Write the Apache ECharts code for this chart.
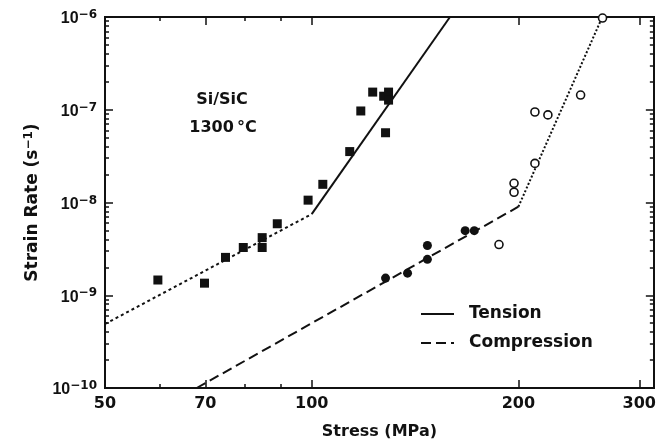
<!DOCTYPE html>
<html lang="en">
<head>
<meta charset="utf-8">
<title>Si/SiC strain rate vs stress</title>
<script src="https://cdn.jsdelivr.net/npm/echarts@6/dist/echarts.min.js"></script>
<style>
  html, body { margin: 0; padding: 0; background: #fff; }
  #main { width: 659px; height: 445px; }
</style>
</head>
<body>
<div id="main"></div>
<script>
// tension, filled squares: [stress MPa, strain rate 1/s]
var tensionPts = [
  [59.7, 1.46e-9], [69.8, 1.35e-9], [74.9, 2.56e-9], [79.5, 3.27e-9],
  [84.7, 3.27e-9], [84.7, 4.18e-9], [89.1, 5.9e-9], [98.8, 1.06e-8],
  [103.8, 1.57e-8], [113.6, 3.54e-8], [117.9, 9.7e-8], [122.7, 1.55e-7],
  [127.3, 1.4e-7], [129.4, 1.55e-7], [129.4, 1.27e-7], [128.1, 5.65e-8]
];
// compression, filled circles
var compLowPts = [
  [128.1, 1.53e-9], [137.9, 1.73e-9], [147.4, 2.44e-9], [147.4, 3.44e-9],
  [167.3, 4.97e-9], [172.5, 4.97e-9]
];
// compression, open circles
var compHighPts = [
  [187.4, 3.52e-9], [197.1, 1.61e-8], [197.1, 1.29e-8], [211.4, 2.64e-8],
  [211.4, 9.46e-8], [220.8, 8.8e-8], [246.4, 1.44e-7], [265.2, 9.75e-7]
];
// fitted lines
var tensionLow = [[50, 4.9e-10], [100, 7.5e-9]];
var tensionHigh = [[100, 7.5e-9], [159, 1e-6]];
var compLow = [[68, 1e-10], [200, 9e-9]];
var compHigh = [[200, 9e-9], [265, 1e-6]];

var xLabels = [50, 70, 100, 200, 300];
var xMajor = [70, 100, 200, 300];
var xMinor = [60, 80, 90];
var yMajor = [1e-10, 1e-9, 1e-8, 1e-7, 1e-6];
var yMinor = [];
for (var e = -10; e < -6; e++) {
  for (var m = 2; m <= 9; m++) yMinor.push(m * Math.pow(10, e));
}

var XMIN = 50, XMAX = 315, YMIN = 1e-10, YMAX = 1e-6;
var ink = '#111';
var sans = 'Liberation Sans, Arial, sans-serif';
var wide = 'DejaVu Sans, sans-serif';

// main log axes: line + labels
var xMain = {
  type: 'log', logBase: 10, min: XMIN, max: XMAX, position: 'bottom',
  axisLine: { show: true, lineStyle: { color: ink, width: 2 } },
  axisTick: { show: false },
  axisLabel: {
    customValues: xLabels, margin: 8,
    color: ink, fontSize: 16, fontWeight: 'bold', fontFamily: wide,
    formatter: function (v) { return String(Math.round(v)); }
  },
  splitLine: { show: false },
  name: 'Stress (MPa)', nameLocation: 'middle', nameGap: 36,
  nameTextStyle: { color: ink, fontSize: 16, fontWeight: 'bold', fontFamily: wide }
};
var yMain = {
  type: 'log', logBase: 10, min: YMIN, max: YMAX, position: 'left',
  axisLine: { show: true, lineStyle: { color: ink, width: 2 } },
  axisTick: { show: false },
  axisLabel: {
    customValues: yMajor, margin: 8, padding: [4, 0, 0, 0],
    formatter: function (v) {
      return '{b|10}{s|\u2212' + Math.abs(Math.round(Math.log10(v))) + '}';
    },
    rich: {
      b: { fontSize: 16, fontWeight: 'bold', color: ink, fontFamily: sans, lineHeight: 20 },
      s: { fontSize: 12, fontWeight: 'bold', color: ink, fontFamily: wide, verticalAlign: 'top', lineHeight: 20 }
    }
  },
  splitLine: { show: false },
  name: '{n|Strain Rate (s}{s|\u22121}{n|)}', nameLocation: 'middle', nameGap: 58,
  nameTextStyle: {
    rich: {
      n: { fontSize: 17, fontWeight: 'bold', color: ink, fontFamily: wide, lineHeight: 21 },
      s: { fontSize: 12, fontWeight: 'bold', color: ink, fontFamily: wide, verticalAlign: 'top', lineHeight: 21 }
    }
  }
};

// tick-only axes, laid over the frame in log10 space
function tickAxis(pos, lo, hi, ticks, len) {
  return {
    type: 'value', min: Math.log10(lo), max: Math.log10(hi), position: pos,
    axisLine: { show: true, lineStyle: { color: ink, width: 2 } },
    axisTick: { show: true, inside: true, length: len,
                customValues: ticks.map(function (t) { return Math.log10(t); }),
                lineStyle: { color: ink, width: 1.5 } },
    axisLabel: { show: false },
    splitLine: { show: false }
  };
}

var xa = [xMain,
  tickAxis('bottom', XMIN, XMAX, xMajor, 8), tickAxis('bottom', XMIN, XMAX, xMinor, 4),
  tickAxis('top', XMIN, XMAX, xMajor, 8), tickAxis('top', XMIN, XMAX, xMinor, 4)];
var ya = [yMain,
  tickAxis('left', YMIN, YMAX, yMajor, 8), tickAxis('left', YMIN, YMAX, yMinor, 4),
  tickAxis('right', YMIN, YMAX, yMajor, 8), tickAxis('right', YMIN, YMAX, yMinor, 4)];

function lineSeries(name, data, type) {
  return {
    name: name, type: 'line', data: data, symbol: 'none', silent: true,
    itemStyle: { color: ink },
    lineStyle: { color: ink, width: 2, type: type }, z: 2
  };
}

var chart = echarts.init(document.getElementById('main'), null, { renderer: 'canvas' });
chart.setOption({
  animation: false,
  backgroundColor: '#fff',
  grid: { left: 105, right: 2, top: 17, bottom: 52, containLabel: false },
  xAxis: xa,
  yAxis: ya,
  legend: {
    data: ['Tension', 'Compression'],
    orient: 'vertical', left: 420, top: 305, padding: 0,
    itemWidth: 33, itemHeight: 18, itemGap: 11,
    itemStyle: { color: 'rgba(0,0,0,0)', borderWidth: 0, opacity: 0 },
    textStyle: { color: ink, fontSize: 17, fontWeight: 'bold', fontFamily: wide,
                 lineHeight: 18, padding: [0, 0, 0, 10] }
  },
  graphic: [
    { type: 'text', x: 222, y: 100,
      style: { text: 'Si/SiC', fill: ink, font: 'bold 16px ' + wide, align: 'center', verticalAlign: 'middle' } },
    { type: 'text', x: 223, y: 128,
      style: { text: '1300\u2009\u00b0C', fill: ink, font: 'bold 16px ' + wide, align: 'center', verticalAlign: 'middle' } }
  ],
  series: [
    lineSeries('Tension', tensionHigh, 'solid'),
    lineSeries('TensionLow', tensionLow, [3, 3]),
    lineSeries('Compression', compLow, [10, 5]),
    lineSeries('CompressionHigh', compHigh, [2, 2]),
    { name: 'tensionPts', type: 'scatter', data: tensionPts, symbol: 'rect', symbolSize: 9,
      itemStyle: { color: ink, opacity: 1 }, z: 3 },
    { name: 'compLowPts', type: 'scatter', data: compLowPts, symbol: 'circle', symbolSize: 9,
      itemStyle: { color: ink, opacity: 1 }, z: 3 },
    { name: 'compHighPts', type: 'scatter', data: compHighPts, symbol: 'circle', symbolSize: 8,
      itemStyle: { color: '#fff', borderColor: ink, borderWidth: 1.6, opacity: 1 }, z: 3 }
  ]
});
</script>
</body>
</html>
